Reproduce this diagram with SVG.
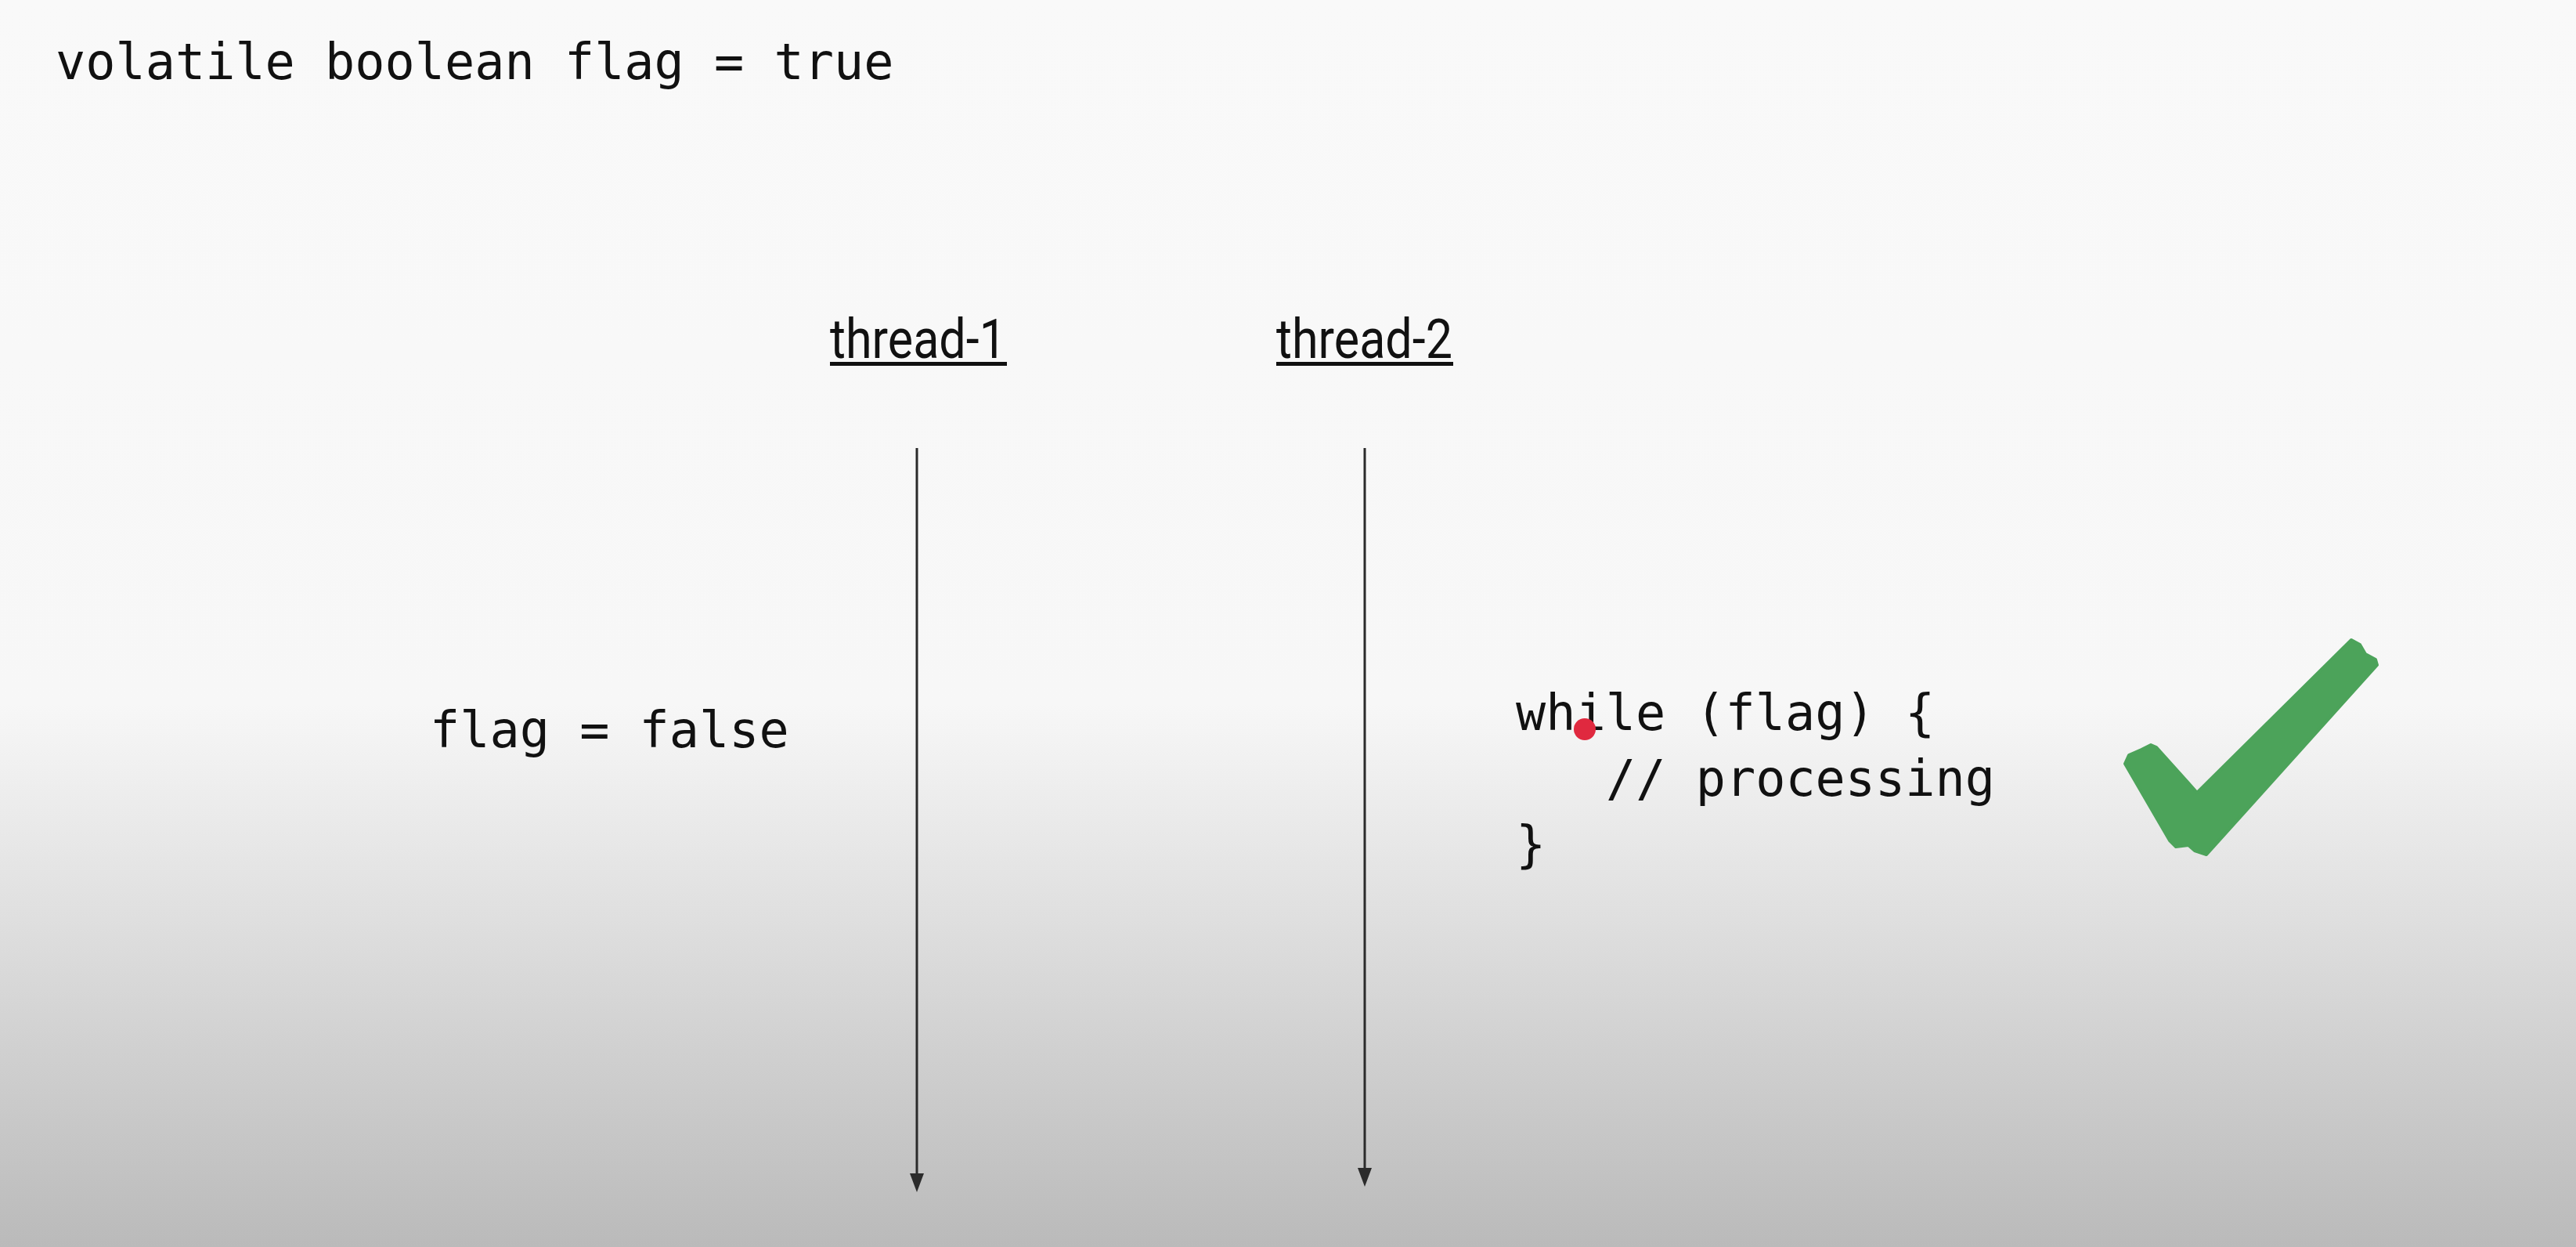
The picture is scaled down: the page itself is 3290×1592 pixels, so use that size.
<svg xmlns="http://www.w3.org/2000/svg" width="3290" height="1592" viewBox="0 0 3290 1592">
  <defs>
    <linearGradient id="bg" x1="0" y1="0" x2="0" y2="1592" gradientUnits="userSpaceOnUse">
      <stop offset="0" stop-color="#f9f9f9"/>
      <stop offset="0.565" stop-color="#f7f7f7"/>
      <stop offset="1" stop-color="#bababa"/>
    </linearGradient>
    <marker id="arrow" markerUnits="userSpaceOnUse" markerWidth="24" markerHeight="18" refX="0" refY="9" orient="auto">
      <path d="M0,0 L24,9 L0,18 Z" fill="#2b2b2b"/>
    </marker>
    <style>
      .code { font-family: "DejaVu Sans Mono", "Liberation Mono", monospace; font-size: 63.5px; fill: #111111; }
      .thread { font-family: Roboto, "Liberation Sans", sans-serif; font-size: 70px; fill: #111111; }
      .uline { fill: #111111; }
      .life { stroke: #2b2b2b; stroke-width: 3; fill: none; marker-end: url(#arrow); }
    </style>
  </defs>

  <rect x="0" y="0" width="3290" height="1592" fill="url(#bg)"/>

  <g id="declaration">
    <text class="code" x="71" y="101">volatile boolean flag = true</text>
  </g>

  <g id="thread-1">
    <text class="thread" x="1060" y="457" textLength="225" lengthAdjust="spacingAndGlyphs">thread-1</text>
    <rect class="uline" x="1060" y="462" width="226" height="5"/>
  </g>

  <g id="thread-2">
    <text class="thread" x="1630" y="457" textLength="225" lengthAdjust="spacingAndGlyphs">thread-2</text>
    <rect class="uline" x="1630" y="462" width="226" height="5"/>
  </g>

  <g id="connectors">
    <line class="life" x1="1171" y1="572" x2="1171" y2="1498"/>
    <line class="life" x1="1743" y1="572" x2="1743" y2="1491"/>
  </g>

  <g id="thread-1-code">
    <text class="code" x="549" y="954">flag = false</text>
  </g>

  <g id="thread-2-code">
    <text class="code" x="1936" y="932">while (flag) {</text>
    <text class="code" x="2051" y="1016">// processing</text>
    <text class="code" x="1936" y="1100">}</text>
  </g>

  <g id="pointer">
    <circle cx="2024" cy="931" r="14" fill="#e0293f"/>
  </g>

  <g id="checkmark">
    <path d="M2714,975 L2719,964 L2735,957 L2747,951 L2754,954 L2806,1012 L3003,817 L3014,823 L3021,835 L3034,842 L3036,849 L2818,1091 L2803,1086 L2795,1079 L2779,1081 L2771,1073 Z" fill="#4ca35a" stroke="#4ca35a" stroke-width="4" stroke-linejoin="round"/>
  </g>
</svg>
